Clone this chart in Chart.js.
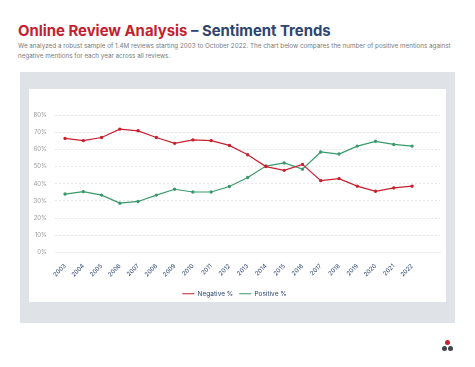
<!DOCTYPE html>
<html>
<head>
<meta charset="utf-8">
<script src="https://cdn.jsdelivr.net/npm/chart.js@4"></script>
<style>
  body { margin: 0; width: 475px; height: 367px; background: #fff; font-family: Inter, sans-serif; position: relative; overflow: hidden; }
  h1 { position: absolute; left: 18px; top: 22px; margin: 0; font-size: 14.9px; font-weight: 700; white-space: nowrap; }
  h1 .red { color: #c41f30; }
  h1 .blue { color: #2c4571; }
  .sub { position: absolute; left: 18px; top: 41px; margin: 0; font-size: 6.3px; line-height: 10px; color: #7a7a7a; white-space: nowrap; }
  .panel { position: absolute; left: 20px; top: 72px; width: 435px; height: 251px; background: #dfe3e7; }
  .card { position: absolute; left: 29px; top: 89px; width: 417px; height: 213px; background: #fff; }
  .card canvas { position: absolute; left: 0; top: 0; }
  .dot { position: absolute; width: 5px; height: 5px; border-radius: 50%; }
</style>
</head>
<body>
<h1><span class="red">Online Review Analysis</span> <span class="blue">– Sentiment Trends</span></h1>
<p class="sub">We analyzed a robust sample of 1.4M reviews starting 2003 to October 2022. The chart below compares the number of positive mentions against<br>negative mentions for each year across all reviews.</p>
<div class="panel"></div>
<div class="card"><canvas id="trendChart" width="417" height="218"></canvas></div>
<div class="dot" style="left:445px; top:340px; background:#c8202f;"></div>
<div class="dot" style="left:442px; top:345.5px; background:#454547;"></div>
<div class="dot" style="left:448px; top:345.5px; background:#454547;"></div>
<script>
const years = [2003, 2004, 2005, 2006, 2007, 2008, 2009, 2010, 2011, 2012,
  2013, 2014, 2015, 2016, 2017, 2018, 2019, 2020, 2021, 2022];
const negative = [66.4, 65.1, 66.9, 71.8, 70.8, 66.9, 63.5, 65.5, 65.1, 62.3,
  56.9, 50, 47.8, 51.3, 41.8, 43, 38.6, 35.6, 37.6, 38.6];
const positive = [34, 35.4, 33.4, 28.7, 29.7, 33.4, 36.8, 35.2, 35.2, 38.4,
  43.6, 50.3, 52.1, 48.5, 58.5, 57.3, 61.9, 64.7, 62.9, 61.9];
const yTicks = [0, 10, 20, 30, 40, 50, 60, 70, 80];

const navy = '#2c4571';
const ctx = document.getElementById('trendChart').getContext('2d');

new Chart(ctx, {
  type: 'line',
  data: {
    datasets: [
      {
        label: 'Negative %',
        data: years.map((y, i) => ({ x: y, y: negative[i] })),
        borderColor: '#c8202f',
        backgroundColor: '#c8202f',
        borderWidth: 1.2,
        pointRadius: 1.1,
        tension: 0,
      },
      {
        label: 'Positive %',
        data: years.map((y, i) => ({ x: y, y: positive[i] })),
        borderColor: '#3a9a6c',
        backgroundColor: '#3a9a6c',
        borderWidth: 1.2,
        pointRadius: 1.1,
        tension: 0,
      },
    ],
  },
  options: {
    responsive: false,
    animation: false,
    layout: { padding: { top: 26, right: 6, left: 0, bottom: 0 } },
    scales: {
      x: {
        type: 'linear',
        min: 2002.45,
        max: 2023.53,
        afterBuildTicks: (scale) => { scale.ticks = years.map(v => ({ value: v })); },
        afterFit: (scale) => { scale.height = 32; },
        grid: { display: false },
        border: { color: '#eeeeee', width: 1 },
        ticks: {
          color: navy,
          font: { family: 'Inter', size: 6 },
          minRotation: 45,
          maxRotation: 45,
          autoSkip: false,
          padding: 2,
          callback: (v) => String(v),
        },
      },
      y: {
        min: 0,
        max: 80,
        afterBuildTicks: (scale) => { scale.ticks = yTicks.map(v => ({ value: v })); },
        afterFit: (scale) => { scale.width = 26; },
        grid: { color: '#e2e2e2', drawTicks: false, lineWidth: 0.8 },
        border: { display: false, dash: [2, 2] },
        ticks: {
          color: '#9a9a9a',
          font: { family: 'Inter', size: 6 },
          padding: 8,
          callback: (v) => v + '%',
        },
      },
    },
    plugins: {
      legend: {
        position: 'bottom',
        labels: {
          boxWidth: 12,
          boxHeight: 0,
          color: navy,
          font: { family: 'Inter', size: 6.5 },
          padding: 6,
        },
      },
      tooltip: { enabled: false },
    },
  },
});
</script>
</body>
</html>
